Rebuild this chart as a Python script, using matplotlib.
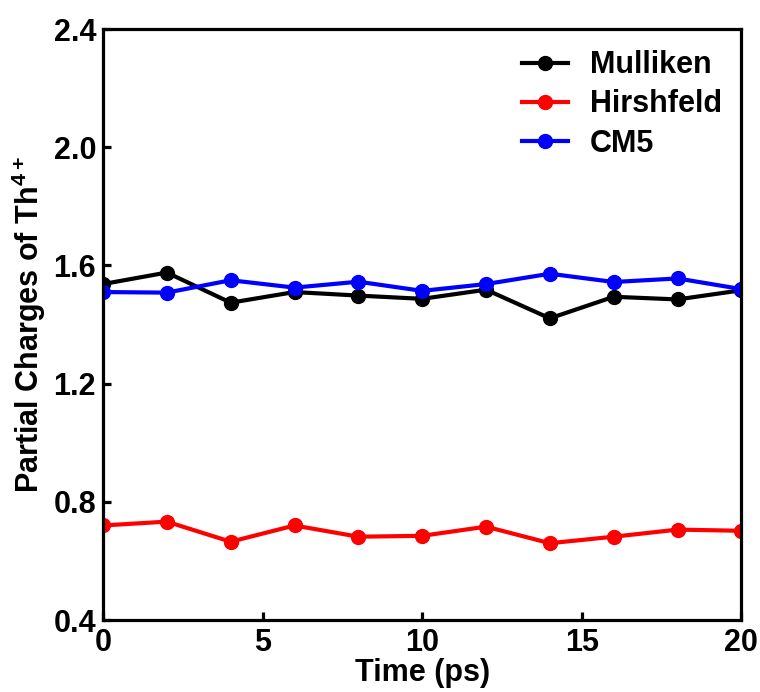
import matplotlib
matplotlib.use("Agg")
import matplotlib.pyplot as plt

plt.rcParams['font.family'] = ['Liberation Sans', 'DejaVu Sans']
plt.rcParams['font.weight'] = 'bold'
plt.rcParams['mathtext.fontset'] = 'custom'
plt.rcParams['mathtext.rm'] = 'Liberation Sans:bold'
plt.rcParams['mathtext.bf'] = 'Liberation Sans:bold'
plt.rcParams['mathtext.default'] = 'bf'

time_ps = [0, 2, 4, 6, 8, 10, 12, 14, 16, 18, 20]
mulliken = [1.537, 1.576, 1.474, 1.510, 1.498, 1.487, 1.518, 1.421, 1.494, 1.485, 1.516]
hirshfeld = [0.720, 0.733, 0.665, 0.720, 0.682, 0.685, 0.716, 0.660, 0.682, 0.706, 0.702]
cm5 = [1.510, 1.508, 1.550, 1.525, 1.545, 1.514, 1.537, 1.572, 1.544, 1.556, 1.520]

fig = plt.figure(figsize=(7.6, 6.92), dpi=100)
ax = fig.add_axes([0.1355, 0.104, 0.84, 0.854])

ax.plot(time_ps, mulliken, color="black", lw=3, marker="o", ms=10, label="Mulliken")
ax.plot(time_ps, hirshfeld, color="red", lw=3, marker="o", ms=10, label="Hirshfeld")
ax.plot(time_ps, cm5, color="blue", lw=3, marker="o", ms=10, label="CM5")

ax.set_xlim(0, 20)
ax.set_ylim(0.4, 2.4)
ax.set_xticks([0, 5, 10, 15, 20])
ax.set_yticks([0.4, 0.8, 1.2, 1.6, 2.0, 2.4])
ax.set_yticklabels(["0.4", "0.8", "1.2", "1.6", "2.0", "2.4"])

for s in ax.spines.values():
    s.set_linewidth(2.3)
ax.tick_params(direction="in", length=6, width=2.3, labelsize=22, pad=5)
ax.tick_params(axis="x", pad=6)

ax.set_xlabel("Time (ps)", fontsize=22, fontweight="bold", labelpad=0)
ax.set_ylabel(r"Partial Charges of Th$^{4+}$", fontsize=22, fontweight="bold", labelpad=4)

ax.legend(loc="upper right", frameon=False, fontsize=22, handlelength=1.5,
          handletextpad=0.7, borderaxespad=0.1, labelspacing=0.3,
          bbox_to_anchor=(0.993, 0.99))

fig.savefig("out.png", dpi=100)
